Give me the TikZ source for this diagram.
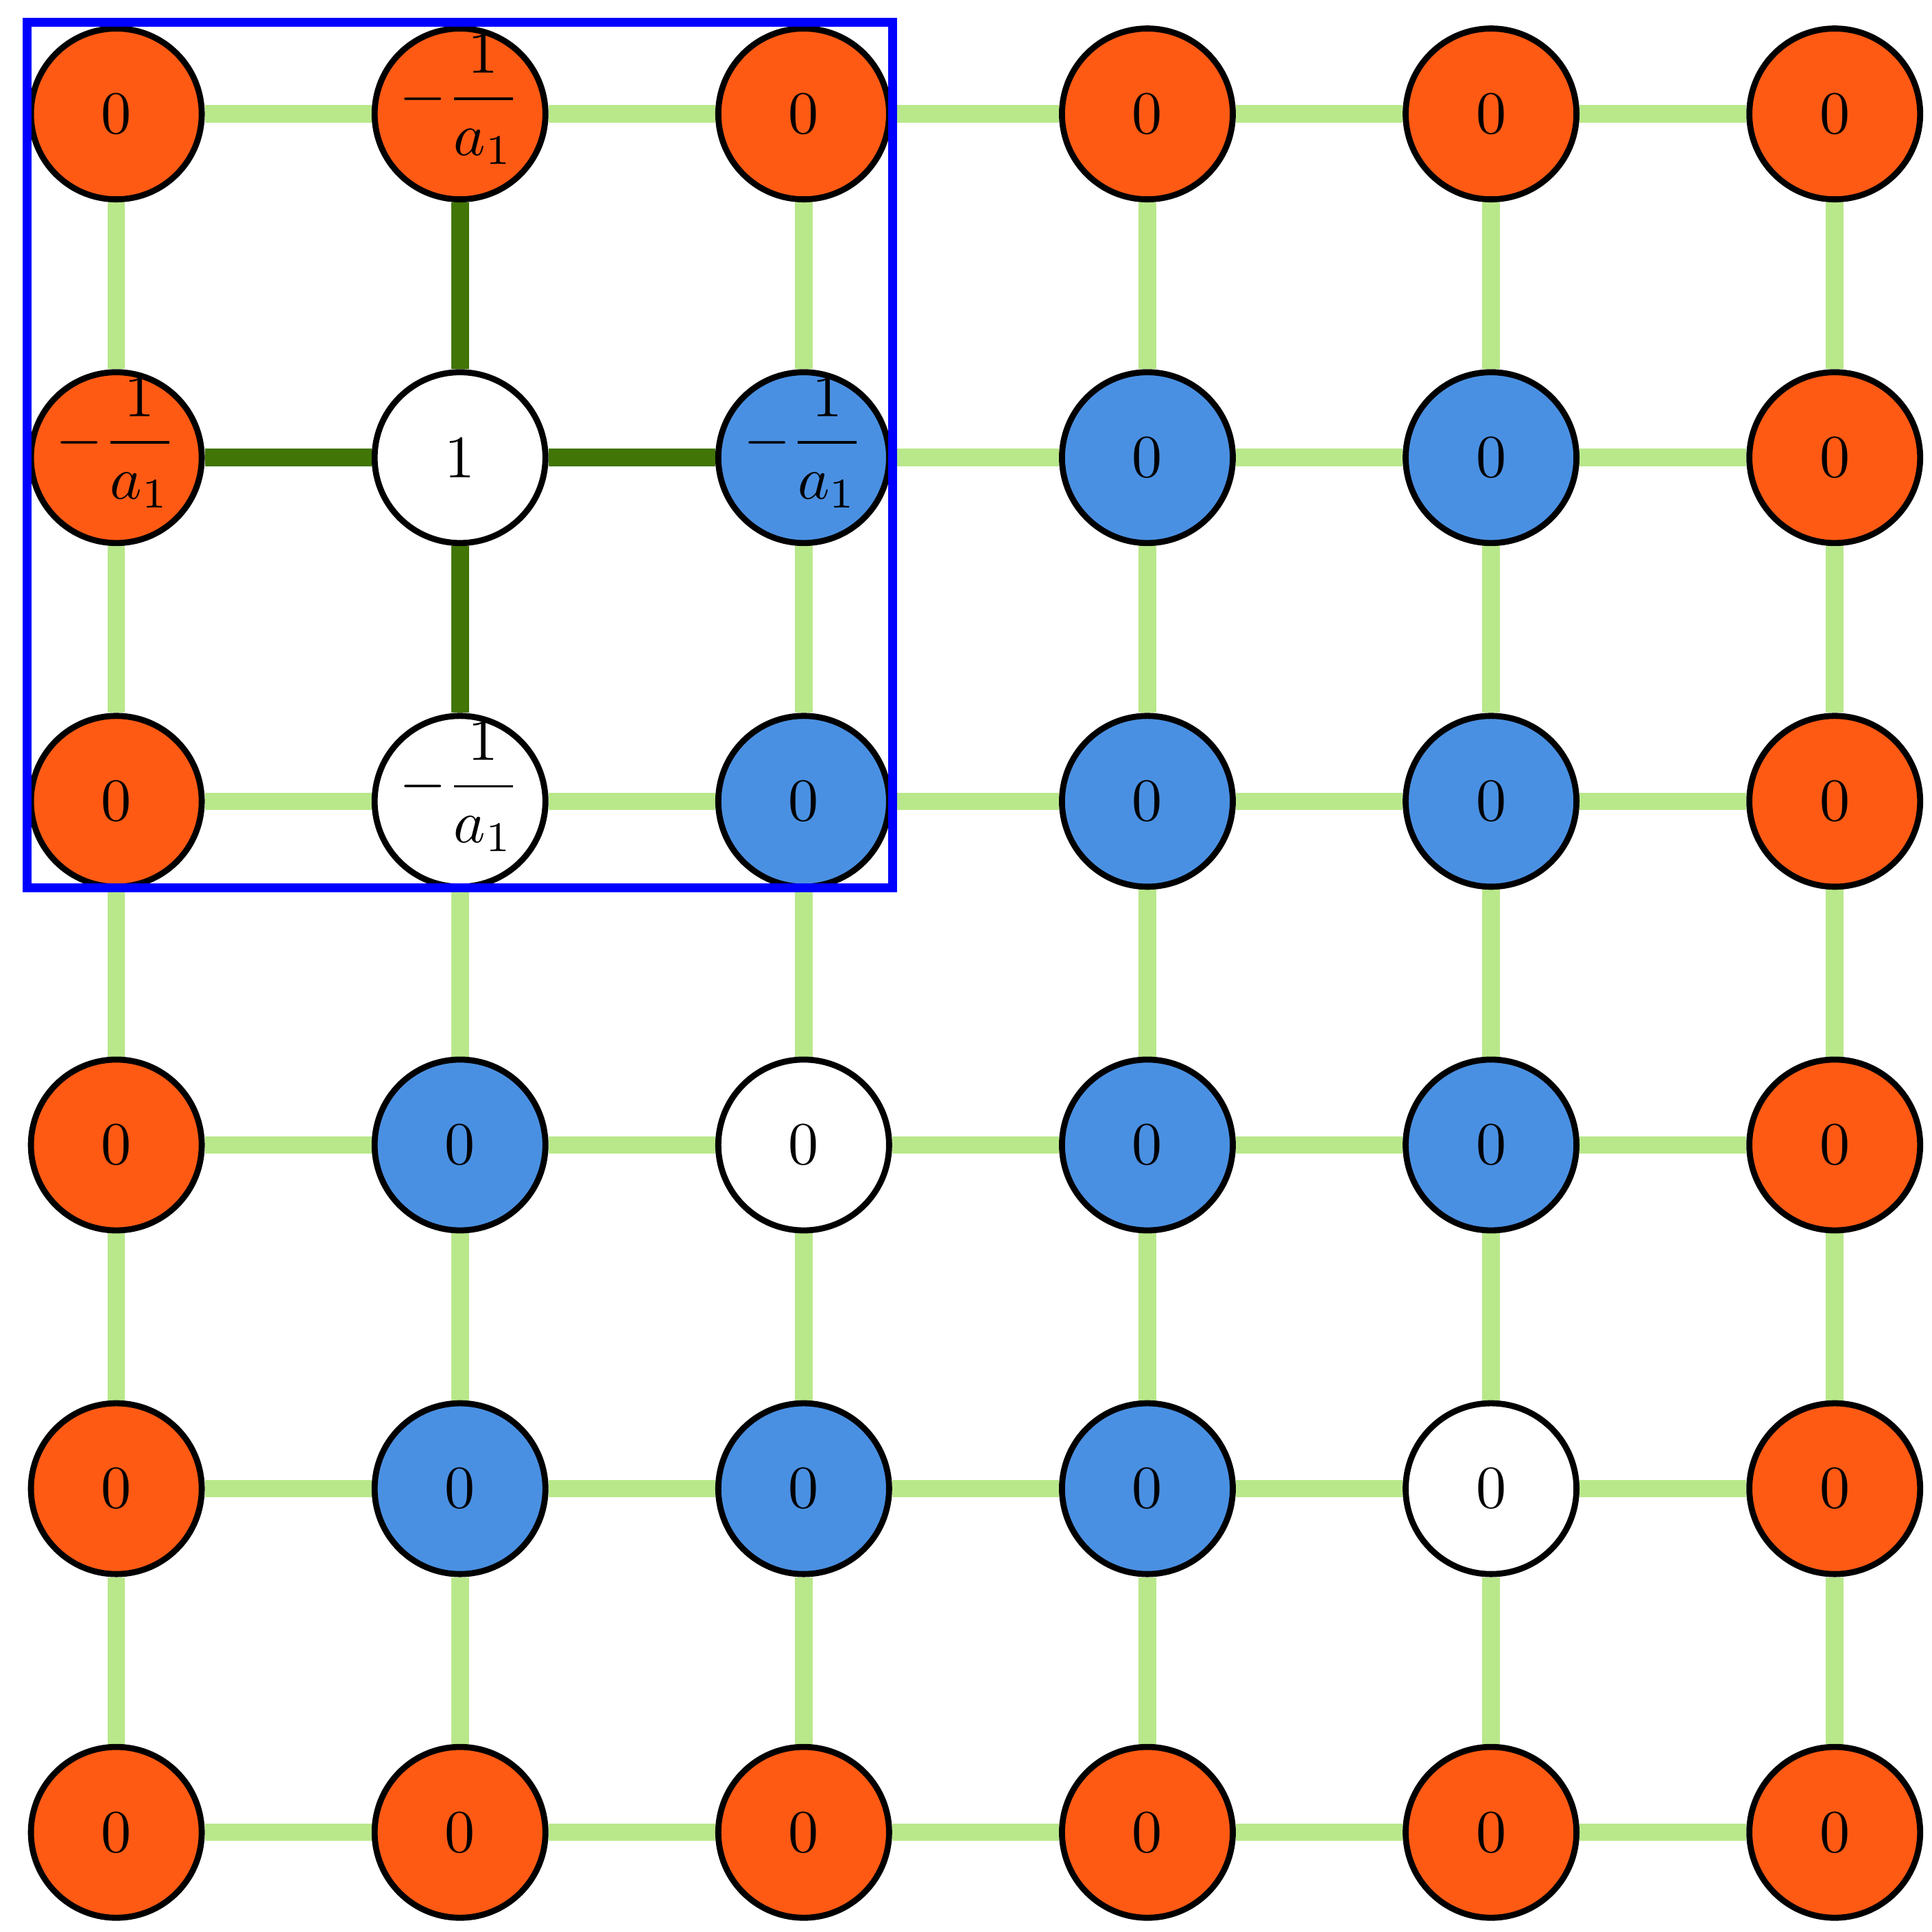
\documentclass[tikz,border=0pt]{standalone}
\usetikzlibrary{backgrounds}
\begin{document}
\begin{tikzpicture}[x=2cm,y=-2cm,
  vtx/.style={circle,draw=black,line width=1pt,minimum size=0.994cm,inner sep=0pt,font=\normalsize},
  org/.style={vtx,fill={rgb,255:red,255;green,90;blue,20}},
  blu/.style={vtx,fill={rgb,255:red,74;green,144;blue,226}},
  wht/.style={vtx,fill=white},
  light/.style={line width=2.9pt,draw={rgb,255:red,185;green,232;blue,138}},
  dark/.style={line width=2.9pt,draw={rgb,255:red,65;green,117;blue,5}},
  frame/.style={line width=1.5pt,draw={rgb,255:red,0;green,0;blue,255}}]
\useasboundingbox (-0.3385,-0.3315) rectangle (5.283,5.290);
\def\fr{\makebox[0pt]{\smash{$\displaystyle-\frac{1}{a_1}$}}}
% row 0
\node[org] (n-0-0) at (0,0) {0};
\node[org] (n-0-1) at (1,0) {\fr};
\node[org] (n-0-2) at (2,0) {0};
\node[org] (n-0-3) at (3,0) {0};
\node[org] (n-0-4) at (4,0) {0};
\node[org] (n-0-5) at (5,0) {0};
% row 1
\node[org] (n-1-0) at (0,1) {\fr};
\node[wht] (n-1-1) at (1,1) {1};
\node[blu] (n-1-2) at (2,1) {\fr};
\node[blu] (n-1-3) at (3,1) {0};
\node[blu] (n-1-4) at (4,1) {0};
\node[org] (n-1-5) at (5,1) {0};
% row 2
\node[org] (n-2-0) at (0,2) {0};
\node[wht] (n-2-1) at (1,2) {\fr};
\node[blu] (n-2-2) at (2,2) {0};
\node[blu] (n-2-3) at (3,2) {0};
\node[blu] (n-2-4) at (4,2) {0};
\node[org] (n-2-5) at (5,2) {0};
% row 3
\node[org] (n-3-0) at (0,3) {0};
\node[blu] (n-3-1) at (1,3) {0};
\node[wht] (n-3-2) at (2,3) {0};
\node[blu] (n-3-3) at (3,3) {0};
\node[blu] (n-3-4) at (4,3) {0};
\node[org] (n-3-5) at (5,3) {0};
% row 4
\node[org] (n-4-0) at (0,4) {0};
\node[blu] (n-4-1) at (1,4) {0};
\node[blu] (n-4-2) at (2,4) {0};
\node[blu] (n-4-3) at (3,4) {0};
\node[wht] (n-4-4) at (4,4) {0};
\node[org] (n-4-5) at (5,4) {0};
% row 5
\foreach \c in {0,...,5} \node[org] (n-5-\c) at (\c,5) {0};
% edges
\begin{scope}[on background layer]
\foreach \r in {0,...,5} {
  \foreach \c/\d in {0/1,1/2,2/3,3/4,4/5} {
    \draw[light] (n-\r-\c) -- (n-\r-\d);
    \draw[light] (n-\c-\r) -- (n-\d-\r);
  }
}
\draw[dark] (n-1-1) -- (n-1-0);
\draw[dark] (n-1-1) -- (n-1-2);
\draw[dark] (n-1-1) -- (n-0-1);
\draw[dark] (n-1-1) -- (n-2-1);
\end{scope}
\coordinate (b1) at (-0.259,-0.267);
\coordinate (b2) at (2.259,2.252);
\draw[frame] (b1) rectangle (b2);
\end{tikzpicture}
\end{document}
